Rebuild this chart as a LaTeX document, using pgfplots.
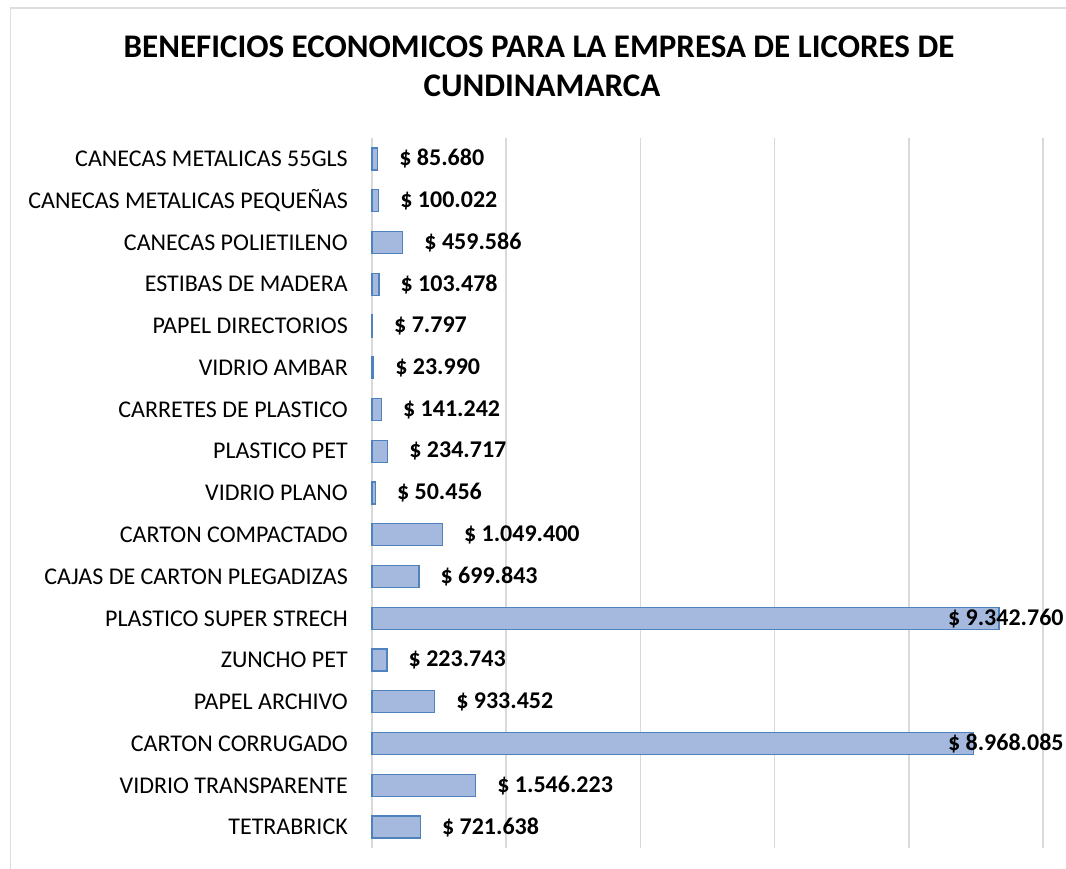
\documentclass[border=0pt]{standalone}
\usepackage{fontspec}
\setmainfont{Carlito}
\usepackage{pgfplots}
\pgfplotsset{compat=1.18}

\definecolor{barline}{RGB}{79,129,189}
\definecolor{barfill}{RGB}{165,185,222}
\definecolor{gridgray}{RGB}{217,217,217}
\definecolor{framegray}{RGB}{222,222,222}

\begin{document}
\begin{tikzpicture}
\useasboundingbox (0,0) rectangle (1066pt,868pt);
% chart frame (right and bottom edges fall outside the picture)
\draw[framegray, line width=1.5pt] (10.5pt,-20pt) -- (10.5pt,860pt) -- (1090pt,860pt);

\node[anchor=base, font=\bfseries\fontsize{33}{39}\selectfont] at (539pt,810pt)
  {BENEFICIOS ECONOMICOS PARA LA EMPRESA DE LICORES DE};
\node[anchor=base, font=\bfseries\fontsize{33}{39}\selectfont] at (542pt,771pt)
  {CUNDINAMARCA};

\begin{axis}[
  at={(372pt,20pt)}, anchor=south west,
  scale only axis,
  width=671pt, height=710pt,
  xmin=0, xmax=10000000,
  ymin=-0.5, ymax=16.5,
  y dir=reverse,
  clip=false,
  scaled x ticks=false,
  xtick={0,2000000,4000000,6000000,8000000,10000000},
  xticklabels={},
  xmajorgrids=true,
  x grid style={gridgray, line width=1.5pt},
  ytick={0,...,16},
  yticklabels={
    CANECAS METALICAS 55GLS,
    CANECAS METALICAS PEQUEÑAS,
    CANECAS POLIETILENO,
    ESTIBAS DE MADERA,
    PAPEL DIRECTORIOS,
    VIDRIO AMBAR,
    CARRETES DE PLASTICO,
    PLASTICO PET,
    VIDRIO PLANO,
    CARTON COMPACTADO,
    CAJAS DE CARTON PLEGADIZAS,
    PLASTICO SUPER STRECH,
    ZUNCHO PET,
    PAPEL ARCHIVO,
    CARTON CORRUGADO,
    VIDRIO TRANSPARENTE,
    TETRABRICK},
  yticklabel style={font=\fontsize{24}{28}\selectfont, anchor=east, inner sep=0pt, xshift=-24pt},
  axis line style={draw=none},
  tick style={draw=none},
  major tick length=0pt,
]

\addplot[xbar, bar width=22pt, draw=barline, line width=1.3pt, fill=barfill,
  point meta=explicit symbolic,
  nodes near coords,
  nodes near coords style={anchor=west, inner sep=0pt, xshift=21pt,
    font=\bfseries\fontsize{24}{28}\selectfont, black}]
coordinates {
  (85680,0) [\$ 85.680]
  (100022,1) [\$ 100.022]
  (459586,2) [\$ 459.586]
  (103478,3) [\$ 103.478]
  (7797,4) [\$ 7.797]
  (23990,5) [\$ 23.990]
  (141242,6) [\$ 141.242]
  (234717,7) [\$ 234.717]
  (50456,8) [\$ 50.456]
  (1049400,9) [\$ 1.049.400]
  (699843,10) [\$ 699.843]
  (9342760,11) []
  (223743,12) [\$ 223.743]
  (933452,13) [\$ 933.452]
  (8968085,14) []
  (1546223,15) [\$ 1.546.223]
  (721638,16) [\$ 721.638]
};

% labels of the two longest bars, pushed back inside the chart edge
\addplot[draw=none, mark=none,
  point meta=explicit symbolic,
  nodes near coords,
  nodes near coords style={anchor=east, inner sep=0pt,
    font=\bfseries\fontsize{24}{28}\selectfont, black}]
coordinates {
  (10310000,11) [\$ 9.342.760]
  (10310000,14) [\$ 8.968.085]
};
\end{axis}
\end{tikzpicture}
\end{document}
